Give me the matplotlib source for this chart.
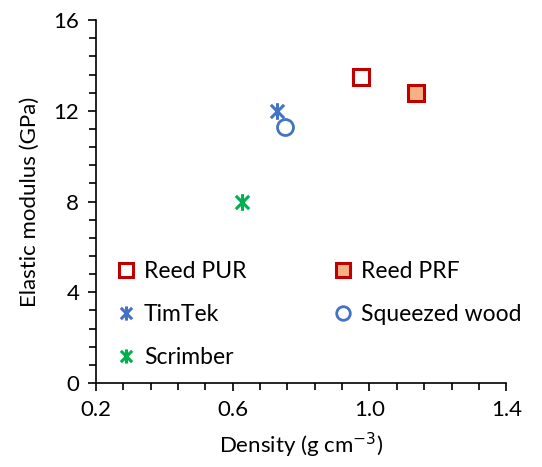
import matplotlib
matplotlib.use("Agg")
import matplotlib.pyplot as plt
from matplotlib.path import Path
from matplotlib.ticker import MultipleLocator, FormatStrFormatter

plt.rcParams['font.family'] = ['Lato', 'DejaVu Sans']

# данные
names = ["Reed PUR", "Reed PRF", "TimTek", "Squeezed wood", "Scrimber"]
density = [0.975, 1.135, 0.73, 0.753, 0.627]
modulus = [13.5, 12.8, 12.0, 11.3, 8.0]

# маркер "звёздочка" как в Excel
star = Path([(-1, -1), (1, 1), (-1, 1), (1, -1), (0, -1.25), (0, 1.25)],
            [Path.MOVETO, Path.LINETO, Path.MOVETO, Path.LINETO, Path.MOVETO, Path.LINETO])

styles = {
    "Reed PUR": dict(marker="s", ms=12, mfc="white", mec="#C00000", mew=2.2),
    "Reed PRF": dict(marker="s", ms=12, mfc="#F4B183", mec="#C00000", mew=2.2),
    "TimTek": dict(marker=star, ms=12, mec="#4472C4", mew=2.2),
    "Squeezed wood": dict(marker="o", ms=11.5, mfc="white", mec="#4472C4", mew=2.0),
    "Scrimber": dict(marker=star, ms=12, mec="#00B050", mew=2.2),
}

fig = plt.figure(figsize=(5.42, 4.67), dpi=100)
ax = fig.add_axes([0.177, 0.180, 0.757, 0.777])

h = {}
for n, x, y in zip(names, density, modulus):
    h[n], = ax.plot([x], [y], ls="none", **styles[n])

ax.set_xlim(0.2, 1.4)
ax.set_ylim(0, 16)
ax.xaxis.set_major_locator(MultipleLocator(0.4, offset=0.2))
ax.xaxis.set_minor_locator(MultipleLocator(0.08, offset=0.04))
ax.yaxis.set_major_locator(MultipleLocator(4))
ax.yaxis.set_minor_locator(MultipleLocator(0.8))
ax.xaxis.set_major_formatter(FormatStrFormatter("%.1f"))

for s in ["top", "right"]:
    ax.spines[s].set_visible(False)
for s in ["left", "bottom"]:
    ax.spines[s].set_linewidth(1.2)
ax.tick_params(which="major", length=6, width=1.2, labelsize=16, pad=6)
ax.tick_params(which="minor", length=5, width=1.2)

ax.set_xlabel("Density (g cm$^{-3}$)", fontsize=16, labelpad=8)
ax.set_ylabel("Elastic modulus (GPa)", fontsize=16, labelpad=10)

order = ["Reed PUR", "TimTek", "Scrimber", "Reed PRF", "Squeezed wood"]
ax.legend([h[n] for n in order], order, ncol=2, frameon=False, fontsize=16.5,
          loc="lower left", bbox_to_anchor=(0.0, -0.015), handlelength=0.8,
          handletextpad=0.4, columnspacing=3.8, labelspacing=0.95, markerscale=0.85)

fig.savefig("out.png", dpi=100)
